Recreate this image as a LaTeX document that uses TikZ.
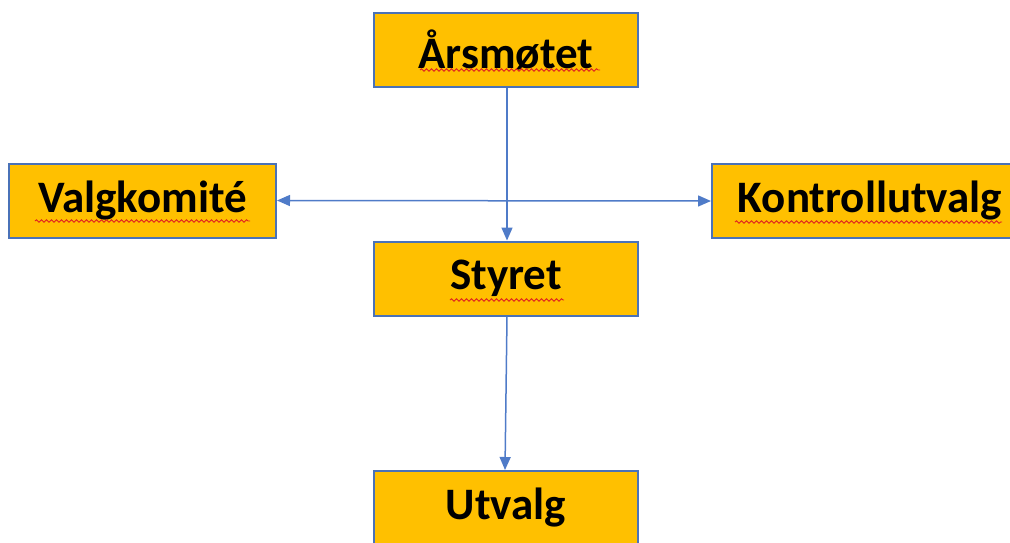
\documentclass[tikz,border=0pt]{standalone}
\usepackage{fontspec}
\setmainfont{Carlito}
\usetikzlibrary{arrows.meta,decorations.pathmorphing}
\definecolor{boxfill}{HTML}{FFC000}
\definecolor{boxline}{HTML}{4A72B8}
\definecolor{conn}{HTML}{4F7BC8}
\definecolor{squig}{HTML}{E02020}
\tikzset{
  orgbox/.style={draw=boxline, line width=2pt, fill=boxfill, inner sep=0pt,
    minimum height=74pt, font=\fontsize{45}{54}\selectfont\bfseries, text=black},
  conline/.style={draw=conn, line width=1.5pt},
  tip/.style={-{Triangle[length=13pt,width=11pt]}},
  spell/.style={draw=squig, line width=0.9pt, decorate,
    decoration={snake, segment length=5pt, amplitude=1.2pt}}
}
\begin{document}
\begin{tikzpicture}[x=1pt,y=-1pt]
\useasboundingbox (0,0) rectangle (1010,542);
\clip (0,0) rectangle (1010,542);
\node[orgbox, minimum width=264pt] (aars) at (506,50) {Årsmøtet};
\node[orgbox, minimum width=267pt] (valg) at (142.5,200.5) {Valgkomité};
\node[orgbox, minimum width=316pt] (kontroll) at (870,201) {Kontrollutvalg};
\node[orgbox, minimum width=264pt] (styret) at (506,278.5) {Styret};
\node[orgbox, minimum width=264pt] (utvalg) at (506,508) {Utvalg};
\draw[conline, {Triangle[length=13pt,width=11pt]}-{Triangle[length=13pt,width=11pt]}] (valg.east) -- (kontroll.west);
\draw[conline, tip] (aars.south -| 507,0) -- (styret.north -| 507,0);
\draw[conline, tip] (styret.south -| 507,0) -- (utvalg.north -| 505,0);
% spelling marks
\coordinate (s1a) at (420,70); \coordinate (s1b) at (600,70);
\draw[spell] (s1a) -- (s1b);
\coordinate (s2a) at (35,221); \coordinate (s2b) at (250,221);
\draw[spell] (s2a) -- (s2b);
\coordinate (s3a) at (735,222); \coordinate (s3b) at (1002,222);
\draw[spell] (s3a) -- (s3b);
\coordinate (s4a) at (450,300); \coordinate (s4b) at (564,300);
\draw[spell] (s4a) -- (s4b);
\end{tikzpicture}
\end{document}
